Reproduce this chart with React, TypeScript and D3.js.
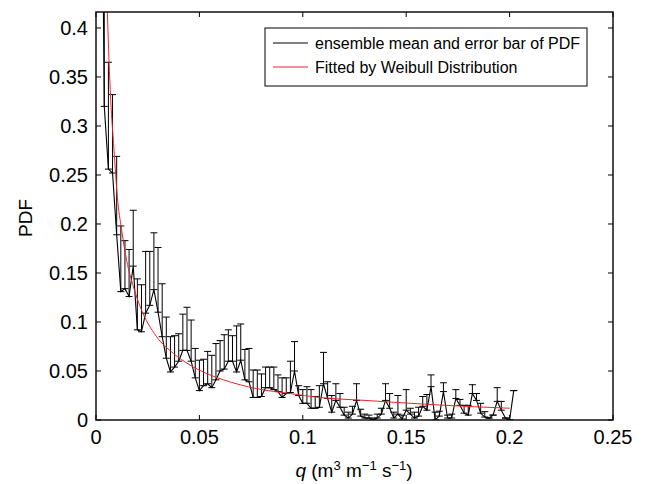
import React, { useEffect, useRef } from 'react';
import * as d3 from 'd3';

// bin centres of q (m3 m-1 s-1)
const qBins = [
  0.002, 0.004, 0.006, 0.008, 0.010, 0.012, 0.014, 0.016, 0.018, 0.020,
  0.022, 0.024, 0.026, 0.028, 0.030, 0.032, 0.034, 0.036, 0.038, 0.040,
  0.042, 0.044, 0.046, 0.048, 0.050, 0.052, 0.054, 0.056, 0.058, 0.060,
  0.062, 0.064, 0.066, 0.068, 0.070, 0.072, 0.074, 0.076, 0.078, 0.080,
  0.082, 0.084, 0.086, 0.088, 0.090, 0.092, 0.094, 0.096, 0.098, 0.100,
  0.102, 0.104, 0.106, 0.108, 0.110, 0.112, 0.114, 0.116, 0.118, 0.120,
  0.122, 0.124, 0.126, 0.128, 0.130, 0.132, 0.134, 0.136, 0.138, 0.140,
  0.142, 0.144, 0.146, 0.148, 0.150, 0.152, 0.154, 0.156, 0.158, 0.160,
  0.162, 0.164, 0.166, 0.168, 0.170, 0.172, 0.174, 0.176, 0.178, 0.180,
  0.182, 0.184, 0.186, 0.188, 0.190, 0.192, 0.194, 0.196, 0.198, 0.200,
  0.202,
];

// ensemble mean of PDF
const meanPdf = [
  0.80, 0.320, 0.256, 0.252, 0.189, 0.131, 0.134, 0.126, 0.157, 0.092,
  0.090, 0.109, 0.117, 0.133, 0.110, 0.085, 0.063, 0.049, 0.054, 0.060,
  0.071, 0.071, 0.060, 0.043, 0.030, 0.035, 0.037, 0.033, 0.041, 0.050,
  0.052, 0.060, 0.060, 0.049, 0.061, 0.041, 0.039, 0.023, 0.023, 0.024,
  0.033, 0.033, 0.031, 0.029, 0.023, 0.027, 0.028, 0.050, 0.025, 0.017,
  0.017, 0.012, 0.012, 0.013, 0.037, 0.022, 0.008, 0.020, 0.013, 0.005,
  0.002, 0.006, 0.020, 0.004, 0.002, 0.002, 0.000, 0.002, 0.006, 0.020,
  0.012, 0.002, 0.006, 0.001, 0.010, 0.006, 0.002, 0.004, 0.014, 0.010,
  0.034, 0.000, 0.004, 0.029, 0.002, 0.002, 0.022, 0.015, 0.007, 0.005,
  0.027, 0.020, 0.007, 0.003, 0.002, 0.005, 0.019, 0.010, 0.002, 0.000,
  0.030,
];

// top of the (one-sided) error bar
const upperPdf = [
  0.95, 0.500, 0.365, 0.332, 0.269, 0.198, 0.183, 0.174, 0.214, 0.144,
  0.138, 0.172, 0.172, 0.191, 0.176, 0.139, 0.105, 0.085, 0.086, 0.088,
  0.108, 0.115, 0.102, 0.073, 0.061, 0.062, 0.070, 0.066, 0.078, 0.081,
  0.087, 0.092, 0.086, 0.096, 0.098, 0.072, 0.073, 0.051, 0.051, 0.047,
  0.054, 0.054, 0.054, 0.046, 0.043, 0.043, 0.060, 0.080, 0.035, 0.031,
  0.034, 0.031, 0.024, 0.035, 0.069, 0.039, 0.025, 0.037, 0.027, 0.013,
  0.008, 0.014, 0.037, 0.011, 0.006, 0.005, 0.002, 0.006, 0.012, 0.037,
  0.027, 0.008, 0.025, 0.005, 0.031, 0.012, 0.008, 0.013, 0.024, 0.026,
  0.046, 0.008, 0.009, 0.038, 0.005, 0.006, 0.031, 0.021, 0.015, 0.015,
  0.036, 0.027, 0.017, 0.0085, 0.002, 0.005, 0.033, 0.019, 0.002, 0.000,
  0.030,
];

// Weibull fit
const fitQ = [
  0.0050, 0.0055, 0.0071, 0.0087, 0.0103, 0.0124, 0.0148, 0.0181, 0.0213, 0.0293,
  0.0374, 0.0455, 0.0551, 0.0616, 0.0777, 0.0938, 0.108, 0.130, 0.166, 0.200,
];
const fitPdf = [
  0.450, 0.415, 0.327, 0.276, 0.228, 0.194, 0.163, 0.136, 0.116, 0.085,
  0.068, 0.056, 0.046, 0.041, 0.032, 0.027, 0.023, 0.020, 0.0153, 0.012,
];

const xTicks = [0, 0.05, 0.1, 0.15, 0.2, 0.25];
const yTicks = [0, 0.05, 0.1, 0.15, 0.2, 0.25, 0.3, 0.35, 0.4];

const App = () => {
  const chartRef = useRef<SVGSVGElement | null>(null);

  useEffect(() => {
    const width = 645;
    const height = 484;
    const left = 96, right = 613, top = 12, bottom = 420;
    const font = '"Liberation Sans", Arial, Helvetica, sans-serif';

    const x = d3.scaleLinear().domain([0, 0.25]).range([left, right]);
    const y = d3.scaleLinear().domain([0, 0.4163]).range([bottom, top]);

    const svg = d3.select(chartRef.current)
      .attr('width', width)
      .attr('height', height)
      .style('font-family', font);

    svg.append('rect').attr('width', width).attr('height', height).attr('fill', '#fff');

    svg.append('defs').append('clipPath').attr('id', 'plot-clip')
      .append('rect')
      .attr('x', left).attr('y', top)
      .attr('width', right - left).attr('height', bottom - top);

    const plot = svg.append('g').attr('clip-path', 'url(#plot-clip)');

    const pts = qBins.map((q, i) => ({ q, m: meanPdf[i], u: upperPdf[i] }));

    // error bars
    const capW = 3.5;
    const bars = plot.append('g').attr('stroke', '#000').attr('stroke-width', 1).attr('fill', 'none');
    pts.forEach(d => {
      const cx = x(d.q);
      bars.append('line').attr('x1', cx).attr('x2', cx).attr('y1', y(d.m)).attr('y2', y(d.u));
      bars.append('line').attr('x1', cx - capW).attr('x2', cx + capW).attr('y1', y(d.u)).attr('y2', y(d.u));
      bars.append('line').attr('x1', cx - capW).attr('x2', cx + capW).attr('y1', y(d.m)).attr('y2', y(d.m));
    });

    // ensemble mean line
    const meanLine = d3.line<{ q: number; m: number }>()
      .x(d => x(d.q))
      .y(d => y(d.m));
    plot.append('path')
      .datum(pts)
      .attr('fill', 'none')
      .attr('stroke', '#000')
      .attr('stroke-width', 1.1)
      .attr('d', meanLine);

    // fitted curve
    const fitLine = d3.line<number>()
      .x((d, i) => x(fitQ[i]))
      .y(d => y(d))
      .curve(d3.curveMonotoneX);
    plot.append('path')
      .datum(fitPdf)
      .attr('fill', 'none')
      .attr('stroke', '#e8262a')
      .attr('stroke-width', 1)
      .attr('d', fitLine);

    // frame + ticks (inside, mirrored)
    svg.append('rect')
      .attr('x', left).attr('y', top)
      .attr('width', right - left).attr('height', bottom - top)
      .attr('fill', 'none').attr('stroke', '#000').attr('stroke-width', 1.4);

    const tl = 5;
    const ticks = svg.append('g').attr('stroke', '#000').attr('stroke-width', 1);
    xTicks.forEach(t => {
      ticks.append('line').attr('x1', x(t)).attr('x2', x(t)).attr('y1', bottom).attr('y2', bottom - tl);
      ticks.append('line').attr('x1', x(t)).attr('x2', x(t)).attr('y1', top).attr('y2', top + tl);
    });
    yTicks.forEach(t => {
      ticks.append('line').attr('x1', left).attr('x2', left + tl).attr('y1', y(t)).attr('y2', y(t));
      ticks.append('line').attr('x1', right).attr('x2', right - tl).attr('y1', y(t)).attr('y2', y(t));
    });

    svg.append('g').selectAll('text').data(xTicks).join('text')
      .attr('x', d => x(d))
      .attr('y', 444)
      .attr('text-anchor', 'middle')
      .attr('font-size', 20)
      .text(d => String(d));

    svg.append('g').selectAll('text').data(yTicks).join('text')
      .attr('x', 88)
      .attr('y', d => y(d))
      .attr('dy', '0.35em')
      .attr('text-anchor', 'end')
      .attr('font-size', 20)
      .text(d => String(d));

    // axis titles
    svg.append('text')
      .attr('transform', 'translate(32,218) rotate(-90)')
      .attr('text-anchor', 'middle')
      .attr('font-size', 19)
      .text('PDF');

    const xl = svg.append('text')
      .attr('x', 354)
      .attr('y', 477)
      .attr('text-anchor', 'middle')
      .attr('font-size', 19);
    xl.append('tspan').attr('font-style', 'italic').text('q');
    xl.append('tspan').text(' (m');
    xl.append('tspan').attr('font-size', 13).attr('dy', -7).text('3');
    xl.append('tspan').attr('dy', 7).text(' m');
    xl.append('tspan').attr('font-size', 13).attr('dy', -7).text('\u22121');
    xl.append('tspan').attr('dy', 7).text(' s');
    xl.append('tspan').attr('font-size', 13).attr('dy', -7).text('\u22121');
    xl.append('tspan').attr('dy', 7).text(')');

    // legend
    const lg = svg.append('g');
    lg.append('rect')
      .attr('x', 265).attr('y', 28).attr('width', 322).attr('height', 58)
      .attr('fill', '#fff').attr('stroke', '#000').attr('stroke-width', 1);
    lg.append('line').attr('x1', 273).attr('x2', 308).attr('y1', 43).attr('y2', 43)
      .attr('stroke', '#000').attr('stroke-width', 1);
    lg.append('line').attr('x1', 273).attr('x2', 308).attr('y1', 67).attr('y2', 67)
      .attr('stroke', '#e8262a').attr('stroke-width', 1);
    lg.append('text').attr('x', 315).attr('y', 48.5).attr('font-size', 16)
      .text('ensemble mean and error bar of PDF');
    lg.append('text').attr('x', 315).attr('y', 72.5).attr('font-size', 16)
      .text('Fitted by Weibull Distribution');

    return () => {
      svg.selectAll('*').remove();
    };
  }, []);

  return (
    <svg
      ref={chartRef}
      style={{ position: 'absolute', left: 0, top: 0, display: 'block' }}
    />
  );
};

export default App;
